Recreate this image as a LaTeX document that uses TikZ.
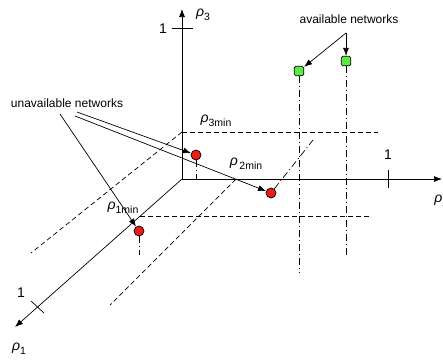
\documentclass[tikz,border=0pt]{standalone}
\usepackage{fontspec}
\setmainfont{Liberation Sans}
\usetikzlibrary{arrows.meta}
\definecolor{netred}{RGB}{238,28,20}
\definecolor{netgreen}{RGB}{96,230,72}
\newcommand{\myrho}{{\fontsize{14}{14}\selectfont\textit{ρ}}}
\newcommand{\mysub}[1]{\raisebox{-4pt}{\fontsize{10.5}{12}\selectfont #1}}
\tikzset{
  arr/.style={-{Latex[length=8pt,width=6pt]}},
  reddot/.style={circle,draw,fill=netred,inner sep=0pt,minimum size=10pt},
  greenbox/.style={draw,fill=netgreen,rounded corners=1.5pt,inner sep=0pt,minimum size=9.5pt},
  guide/.style={dashed,dash pattern=on 5pt off 3pt},
  drop/.style={dash pattern=on 7pt off 3pt on 1pt off 3pt},
  lbl/.style={font=\fontsize{12}{14}\selectfont},
  ticklbl/.style={font=\fontsize{14}{16}\selectfont}
}
\begin{document}
\begin{tikzpicture}[x=1pt,y=-1pt,line width=0.7pt]
        \useasboundingbox (0,0) rectangle (443,360);
        % axes
        \coordinate (O) at (182,179);
        \coordinate (e1) at (15,327);
        \coordinate (e2) at (442,179);
        \coordinate (e3) at (182,9);
        \draw[arr] (O) -- (e1);
        \draw[arr] (O) -- (e2);
        \draw[arr] (O) -- (e3);
        % ticks
        \draw (172,28) -- (193,28);
        \draw (388,170) -- (388,188);
        \draw (31,301) -- (44,313);
        \node[ticklbl] (t3) at (163,29) {1};
        \node[ticklbl] (t2) at (388,155) {1};
        \node[ticklbl] (t1) at (21,293) {1};
        % axis labels
        \node[inner sep=0] (l3) at (203,15) {\myrho\mysub{3}};
        \node[inner sep=0,anchor=west] (l2) at (434,201) {\myrho\mysub{2}};
        \node[inner sep=0] (l1) at (19,349) {\myrho\mysub{1}};
        % thresholds
        \draw[guide] (182,132) -- (378,132);
        \draw[guide] (182,132) -- (31,253);
        \draw[guide] (236,179) -- (110,305);
        \draw[guide] (140,216) -- (370,216);
        \node[inner sep=0] (m3) at (216,121) {\myrho\mysub{3min}};
        \node[inner sep=0] (m2) at (246,164) {\myrho\,\mysub{2min}};
        \node[inner sep=0] (m1) at (123,208) {\myrho\mysub{1min}};
        % networks
        \node[reddot] (r1) at (139,231) {};
        \node[reddot] (r2) at (271,193) {};
        \node[reddot] (r3) at (196,155) {};
        \node[greenbox] (g1) at (299,71) {};
        \node[greenbox] (g2) at (346,61) {};
        \draw[drop] (r1) -- (139,255);
        \draw[drop] (r3) -- (196,179);
        \draw[drop] (r2) -- (313,140);
        \draw[drop] (g1) -- (299,273);
        \draw[drop] (g2) -- (346,257);
        % labels and pointers
        \node[lbl] (avail) at (349,19) {available networks};
        \node[lbl] (unavail) at (67,103) {unavailable networks};
        \coordinate (a0) at (346,33);
        \coordinate (u1) at (60,114);
        \coordinate (u2) at (77,112);
        \coordinate (u3) at (75,116);
        \draw[arr] (a0) -- (g1);
        \draw[arr] (a0) -- (g2);
        \draw[arr] (u1) -- (r1);
        \draw[arr] (u2) -- (r3);
        \draw[arr] (u3) -- (r2);
    \end{tikzpicture}
\end{document}
